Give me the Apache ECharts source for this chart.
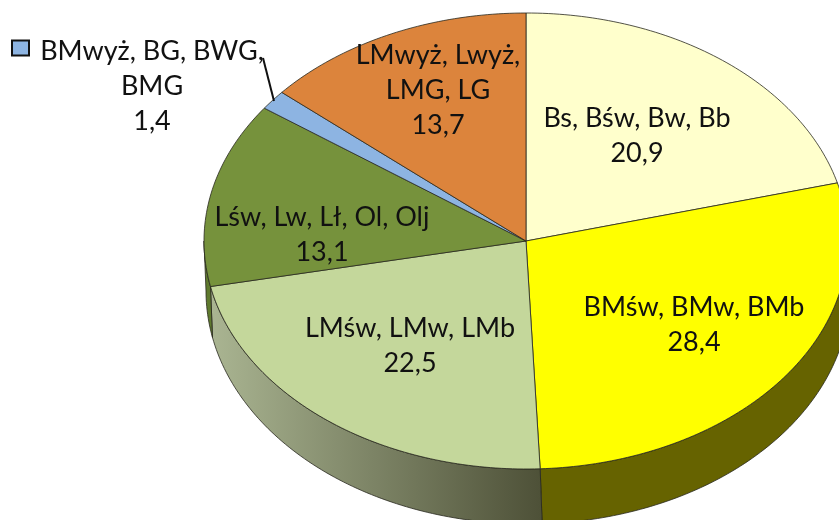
<!DOCTYPE html>
<html><head><meta charset="utf-8">
<style>html,body{margin:0;padding:0;background:#fff}#c{width:839px;height:520px}</style>
<script src="https://cdn.jsdelivr.net/npm/echarts@6/dist/echarts.min.js"></script>
</head><body><div id="c"></div>
<script>
const categories = ['Bs, Bśw, Bw, Bb','BMśw, BMw, BMb','LMśw, LMw, LMb','Lśw, Lw, Lł, Ol, Olj','BMwyż, BG, BWG,\nBMG','LMwyż, Lwyż,\nLMG, LG'];
const values = [20.9,28.4,22.5,13.1,1.4,13.7];
const valueLabels = ['20,9','28,4','22,5','13,1','1,4','13,7'];
const topColors = ['#FFFFCC','#FFFF00','#C4D79B','#76923C','#8DB4E2','#DC843C'];
const sideColors = ['#666652','#666300',null,'#5F7A2E','#5A7290','#8A5226'];
const labelCenters = [[637,136],[694,325],[410,346],[322,235],[152,86],[438,90]];

const CX=526, CY=241, RX=322, RY=228, DEPTH=50, RY_BOTTOM=233, CX_BOTTOM=528;
const total = values.reduce((a,b)=>a+b,0);
const pt=(deg,bottom)=>{const t=deg*Math.PI/180;return bottom
  ?[CX_BOTTOM+RX*Math.sin(t),CY+DEPTH-RY_BOTTOM*Math.cos(t)]
  :[CX+RX*Math.sin(t),CY-RY*Math.cos(t)];};
function arc(a,b,bottom){const n=Math.max(2,Math.ceil(Math.abs(b-a)));const r=[];for(let i=0;i<=n;i++)r.push(pt(a+(b-a)*i/n,bottom));return r;}
const stroke='rgba(40,40,30,0.8)';
function renderItem(params,api){
  const i=params.dataIndex;
  let cum=0;for(let k=0;k<i;k++)cum+=values[k];
  const a=cum/total*360,b=(cum+api.value(0))/total*360;
  const kids=[];
  const sa=Math.max(a,90),sb=Math.min(b,270);
  if(sb>sa){
    const fill=sideColors[i]||{type:'linear',x:210,y:0,x2:540,y2:0,global:true,colorStops:[{offset:0,color:'#AAB592'},{offset:1,color:'#4E5138'}]};
    kids.push({type:'polygon',shape:{points:arc(sa,sb,false).concat(arc(sb,sa,true))},style:{fill,stroke,lineWidth:1}});
  }
  kids.push({type:'polygon',shape:{points:[[CX,CY]].concat(arc(a,b,false))},style:{fill:topColors[i],stroke,lineWidth:1}});
  const c=labelCenters[i];
  kids.push({type:'text',z2:50,style:{x:c[0],y:c[1],text:categories[i]+'\n'+valueLabels[i],fill:'#111',font:'27px Lato',align:'center',verticalAlign:'middle',lineHeight:35}});
  return {type:'group',children:kids};
}
function renderExtras(params,api){
  return {type:'group',children:[
    {type:'rect',shape:{x:12,y:40.5,width:17,height:15},style:{fill:topColors[4],stroke:'#111',lineWidth:2}},
    {type:'line',shape:{x1:263,y1:58,x2:274,y2:101},style:{stroke:'#111',lineWidth:2}}
  ]};
}
const chart=echarts.init(document.getElementById('c'),null,{renderer:'canvas'});
chart.setOption({animation:false,
 series:[
  {type:'custom',coordinateSystem:'none',silent:true,renderItem,data:values.map(v=>[v]),clip:false},
  {type:'custom',coordinateSystem:'none',silent:true,renderItem:renderExtras,data:[[0]],z:5}
 ]});
</script></body></html>
